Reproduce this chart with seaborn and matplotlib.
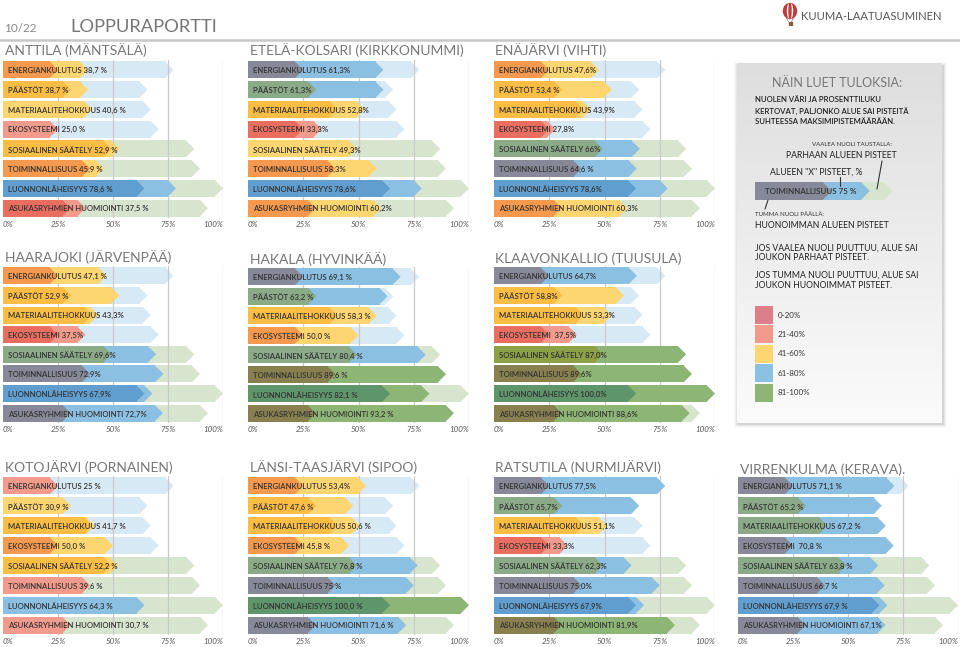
import numpy as np
import pandas as pd
import matplotlib
matplotlib.use("Agg")
import matplotlib.pyplot as plt
import seaborn as sns
from matplotlib.patches import Rectangle, Ellipse
from matplotlib.lines import Line2D
from matplotlib.colors import to_rgb, LinearSegmentedColormap

# ---------------- data ----------------
categories = ["ENERGIANKULUTUS", "PÄÄSTÖT", "MATERIAALITEHOKKUUS", "EKOSYSTEEMI",
              "SOSIAALINEN SÄÄTELY", "TOIMINNALLISUUS", "LUONNONLÄHEISYYS",
              "ASUKASRYHMIEN HUOMIOINTI"]
class_names = ["0-20%", "21-40%", "41-60%", "61-80%", "81-100%"]
class_colors = ["#dc7f8a", "#f29a8c", "#fdd672", "#8cc0e2", "#8db575"]

area_names = ["ANTTILA (MÄNTSÄLÄ)", "ETELÄ-KOLSARI (KIRKKONUMMI)", "ENÄJÄRVI (VIHTI)",
              "HAARAJOKI (JÄRVENPÄÄ)", "HAKALA (HYVINKÄÄ)", "KLAAVONKALLIO (TUUSULA)",
              "KOTOJÄRVI (PORNAINEN)", "LÄNSI-TAASJÄRVI (SIPOO)", "RATSUTILA (NURMIJÄRVI)",
              "VIRRENKULMA (KERAVA)."]

anttila_values = [38.7, 38.7, 40.6, 25.0, 52.9, 45.9, 78.6, 37.5]
anttila_classes = ["41-60%", "41-60%", "41-60%", "21-40%", "41-60%", "41-60%", "61-80%", "21-40%"]
anttila_labels = ["38,7 %", "38,7 %", "40,6 %", "25,0 %", "52,9 %", "45,9 %", "78,6 %", "37,5 %"]

kolsari_values = [61.3, 61.3, 52.8, 33.3, 49.3, 58.3, 78.6, 60.2]
kolsari_classes = ["61-80%", "61-80%", "41-60%", "21-40%", "41-60%", "41-60%", "61-80%", "41-60%"]
kolsari_labels = ["61,3%", "61,3%", "52,8%", "33,3%", "49,3%", "58,3%", "78,6%", "60,2%"]

enajarvi_values = [47.6, 53.4, 43.9, 27.8, 66.0, 64.6, 78.6, 60.3]
enajarvi_classes = ["41-60%", "41-60%", "41-60%", "21-40%", "61-80%", "61-80%", "61-80%", "41-60%"]
enajarvi_labels = ["47,6%", "53,4 %", "43,9%", "27,8%", "66%", "64,6 %", "78,6%", "60,3%"]

haarajoki_values = [47.1, 52.9, 43.3, 37.5, 69.6, 72.9, 67.9, 72.7]
haarajoki_classes = ["41-60%", "41-60%", "41-60%", "21-40%", "61-80%", "61-80%", "61-80%", "61-80%"]
haarajoki_labels = ["47,1 %", "52,9 %", "43,3%", "37,5%", "69,6%", "72,9%", "67,9%", "72,7%"]

hakala_values = [69.1, 63.2, 58.3, 50.0, 80.4, 89.6, 82.1, 93.2]
hakala_classes = ["61-80%", "61-80%", "41-60%", "41-60%", "61-80%", "81-100%", "81-100%", "81-100%"]
hakala_labels = ["69,1 %", "63,2 %", "58,3 %", "50,0 %", "80,4 %", "89,6 %", "82,1 %", "93,2 %"]

klaavonkallio_values = [64.7, 58.8, 53.3, 37.5, 87.0, 89.6, 100.0, 88.6]
klaavonkallio_classes = ["61-80%", "41-60%", "41-60%", "21-40%", "81-100%", "81-100%", "81-100%", "81-100%"]
klaavonkallio_labels = ["64,7%", "58,8%", "53,3%", " 37,5%", "87,0%", "89,6%", "100,0%", "88,6%"]

kotojarvi_values = [25.0, 30.9, 41.7, 50.0, 52.2, 39.6, 64.3, 30.7]
kotojarvi_classes = ["21-40%", "41-60%", "41-60%", "41-60%", "41-60%", "21-40%", "61-80%", "21-40%"]
kotojarvi_labels = ["25 %", "30,9 %", "41,7 %", "50,0 %", "52,2 %", "39,6 %", "64,3 %", "30,7 %"]

taasjarvi_values = [53.4, 47.6, 50.6, 45.8, 76.8, 75.0, 100.0, 71.6]
taasjarvi_classes = ["41-60%", "41-60%", "41-60%", "41-60%", "61-80%", "61-80%", "81-100%", "61-80%"]
taasjarvi_labels = ["53,4%", "47,6 %", "50,6 %", "45,8 %", "76,8 %", "75 %", "100,0 %", "71,6 %"]

ratsutila_values = [77.5, 65.7, 51.1, 33.3, 62.3, 75.0, 67.9, 81.9]
ratsutila_classes = ["61-80%", "61-80%", "41-60%", "21-40%", "61-80%", "61-80%", "61-80%", "81-100%"]
ratsutila_labels = ["77,5%", "65,7%", "51,1%", "33,3%", "62,3%", "75,0%", "67,9%", "81,9%"]

virrenkulma_values = [71.1, 65.2, 67.2, 70.8, 63.8, 66.7, 67.9, 67.1]
virrenkulma_classes = ["61-80%"] * 8
virrenkulma_labels = ["71,1 %", "65,2 %", "67,2 %", " 70,8 %", "63,8 %", "66,7 %", "67,9 %", "67,1%"]

tick_values = [0, 25, 50, 75, 100]
tick_labels = ["0%", "25%", "50%", "75%", "100%"]

# legend example (Näin luet tuloksia)
example_category = ["TOIMINNALLISUUS"]
example_values = [50.0, 75.0, 90.0]  # worst, area, best
example_label = "75 %"

# ---------------- setup ----------------
sns.set_theme(style="white")
plt.rcParams["font.family"] = ["Lato", "DejaVu Sans"]

W, H = 960, 647
fig = plt.figure(figsize=(W / 100, H / 100), dpi=100)
fig.patch.set_facecolor("white")

cmap = dict(zip(class_names, [np.array(to_rgb(c)) for c in class_colors]))


def ax_px(x0, y0, x1, y1, **kw):
    return fig.add_axes([x0 / W, 1 - y1 / H, (x1 - x0) / W, (y1 - y0) / H], **kw)


def ftext(x, y, s, **kw):
    return fig.text(x / W, 1 - y / H, s, **kw)


def light(c, a=0.35):
    return tuple(1 - a * (1 - np.asarray(c)))


def multiply(mid, top, a=0.72):
    return tuple(np.asarray(mid) * (1 - a + a * np.asarray(top)))


TIP = 3.6
BH = 0.86
TITLE_KW = dict(fontsize=10.0, color="#777777", fontweight="normal")


def draw_layer(ax, cats, vals, cols, order, tip=TIP, h=BH):
    if not cats:
        return
    df = pd.DataFrame({"cat": cats, "v": [v - tip for v in vals]})
    sns.barplot(data=df, x="v", y="cat", hue="cat", order=order,
                palette=dict(zip(cats, cols)), orient="h", width=h,
                saturation=1, linewidth=0, edgecolor="none",
                legend=False, errorbar=None, ax=ax)
    for c, v, col in zip(cats, vals, cols):
        i = order.index(c)
        ax.fill([v - tip - 0.25, v, v - tip - 0.25], [i - h / 2, i, i + h / 2],
                color=col, lw=0)


all_values = np.array([anttila_values, kolsari_values, enajarvi_values, haarajoki_values,
                       hakala_values, klaavonkallio_values, kotojarvi_values,
                       taasjarvi_values, ratsutila_values, virrenkulma_values])
all_classes = [anttila_classes, kolsari_classes, enajarvi_classes, haarajoki_classes,
               hakala_classes, klaavonkallio_classes, kotojarvi_classes,
               taasjarvi_classes, ratsutila_classes, virrenkulma_classes]
all_labels = [anttila_labels, kolsari_labels, enajarvi_labels, haarajoki_labels,
              hakala_labels, klaavonkallio_labels, kotojarvi_labels,
              taasjarvi_labels, ratsutila_labels, virrenkulma_labels]

best_idx = all_values.argmax(axis=0)
worst_idx = all_values.argmin(axis=0)
best_vals = all_values.max(axis=0)
worst_vals = all_values.min(axis=0)
best_cls = [all_classes[best_idx[r]][r] for r in range(len(categories))]
worst_cls = [all_classes[worst_idx[r]][r] for r in range(len(categories))]

# pixel layout: x0(0%), x1(100%), ytop, ybottom, title x, title baseline y
layout = [
    (3, 223, 60, 218, 5, 55),
    (248, 469, 60, 218, 250, 55),
    (494, 715, 60, 218, 495, 55),
    (3, 223, 266, 423, 5, 262),
    (248, 469, 267, 423, 250, 264),
    (494, 715, 266, 423, 495, 263),
    (3, 223, 476, 635, 5, 472),
    (248, 469, 476, 635, 250, 472),
    (494, 715, 476, 635, 495, 472),
    (738, 958, 476, 635, 740, 474),
]

TEXT_DARK = "#333333"
GRID = "#c9c9c9"

for a, (x0, x1, yt, yb, tx, ty) in enumerate(layout):
    vals = all_values[a]
    cls = all_classes[a]
    labs = all_labels[a]
    ax = ax_px(x0, yt, x1, yb)
    ax.set_facecolor("none")

    # background: best area's score
    bc, bv, bcol = [], [], []
    for r, c in enumerate(categories):
        if vals[r] < best_vals[r]:
            bc.append(c); bv.append(best_vals[r]); bcol.append(light(cmap[best_cls[r]]))
    draw_layer(ax, bc, bv, bcol, categories)

    # grid lines
    for t in tick_values[1:]:
        ax.axvline(t, color=GRID, lw=0.9, zorder=1)

    # this area's score
    draw_layer(ax, categories, list(vals), [tuple(cmap[c]) for c in cls], categories)

    # dark overlay: worst area's score
    dc, dv, dcol = [], [], []
    for r, c in enumerate(categories):
        if vals[r] > worst_vals[r]:
            dc.append(c); dv.append(worst_vals[r])
            dcol.append(multiply(cmap[cls[r]], cmap[worst_cls[r]]))
    draw_layer(ax, dc, dv, dcol, categories)

    for r, c in enumerate(categories):
        ax.text(2.4, r + 0.04, f"{c} {labs[r]}", va="center", ha="left",
                fontsize=5.6, color=TEXT_DARK, fontweight="semibold", zorder=6)

    ax.set_xlim(0, 100)
    ax.set_ylim(len(categories) - 0.5, -0.5)
    ax.set_xlabel("")
    ax.set_ylabel("")
    ax.set_yticks([])
    ax.set_xticks(tick_values)
    ax.set_xticklabels(tick_labels, fontsize=5.8, color="#555555", style="italic")
    tl = ax.get_xticklabels()
    tl[0].set_ha("left")
    tl[-1].set_ha("right")
    ax.tick_params(axis="x", length=0, pad=2.5)
    for s in ax.spines.values():
        s.set_visible(False)

    ftext(tx, ty, area_names[a], va="baseline", ha="left", zorder=10, **TITLE_KW)

# ---------------- header ----------------
ftext(4, 32, "10/22", fontsize=8.5, color="#888888", fontweight="normal", va="baseline")
ftext(70, 32, "LOPPURAPORTTI", fontsize=13.2, color="#777777", fontweight="normal", va="baseline")
fig.add_artist(Line2D([0, 1], [1 - 39.5 / H] * 2, color="#c8c8c8", lw=1.8,
                      transform=fig.transFigure))

# logo
axlogo = ax_px(780, 2, 800, 26)
axlogo.set_xlim(0, 20); axlogo.set_ylim(24, 0); axlogo.axis("off")
axlogo.add_patch(Ellipse((10, 9), 13, 15, color="#c23b3b"))
axlogo.add_patch(Ellipse((10, 9), 5, 15, color="white"))
axlogo.add_patch(Ellipse((10, 9), 2, 15, color="#c23b3b"))
axlogo.add_patch(Rectangle((8.5, 19.5), 3, 3, color="#8a5a3a"))
axlogo.plot([5.5, 8.5], [14.5, 19.5], color="#777", lw=0.5)
axlogo.plot([14.5, 11.5], [14.5, 19.5], color="#777", lw=0.5)
ftext(801, 17, "KUUMA-LAATUASUMINEN", fontsize=8.1, color="#555555", va="center")

# ---------------- legend panel ----------------
bx0, by0, bx1, by1 = 737, 63, 942, 423
for k, al in enumerate([0.07, 0.05, 0.03, 0.015]):
    fig.add_artist(Rectangle(((bx0 - k) / W, 1 - (by1 + 2 + k) / H),
                             (bx1 - bx0 + 2 * k + 2) / W, (by1 - by0 + 2 * k) / H,
                             transform=fig.transFigure, color="black", alpha=al, lw=0,
                             zorder=-5))
axl = ax_px(bx0, by0, bx1, by1)
axl.set_zorder(-1)
grad = np.linspace(0, 1, 256).reshape(-1, 1)
gcm = LinearSegmentedColormap.from_list("g", ["#dedede", "#fbfbfb"])
axl.imshow(grad, aspect="auto", cmap=gcm, extent=[0, 1, 0, 1], origin="upper")
axl.axis("off")

ftext(837, 87, "NÄIN LUET TULOKSIA:", fontsize=9.0, color="#777777",
      fontweight="normal", ha="center", va="baseline")
for yy, s in zip([100, 111, 122], ["NUOLEN VÄRI JA PROSENTTILUKU",
                                   "KERTOVAT, PALJONKO ALUE SAI PISTEITÄ",
                                   "SUHTEESSA MAKSIMIPISTEMÄÄRÄÄN."]):
    ftext(755, yy, s, fontsize=5.6, color="#222222", fontweight="semibold", va="center")
ftext(852, 145, "VAALEA NUOLI TAUSTALLA:", fontsize=4.4, color="#333333", ha="center", va="center")
ftext(841, 155, "PARHAAN ALUEEN PISTEET", fontsize=6.2, color="#222222", ha="center", va="center")
ftext(770, 172, "ALUEEN \"X\" PISTEET, %", fontsize=6.2, color="#222222", va="center")
ftext(755, 214, "TUMMA NUOLI PÄÄLLÄ:", fontsize=4.4, color="#333333", va="center")
ftext(755, 225, "HUONOIMMAN ALUEEN PISTEET", fontsize=6.2, color="#222222", va="center")
for yy, s in zip([248, 258, 275, 285], ["JOS VAALEA NUOLI PUUTTUU, ALUE SAI",
                                       "JOUKON PARHAAT PISTEET.",
                                       "JOS TUMMA NUOLI PUUTTUU, ALUE SAI",
                                       "JOUKON HUONOIMMAT PISTEET."]):
    ftext(755, yy, s, fontsize=6.2, color="#222222", va="center")

# example arrow
axe = ax_px(755, 182, 908, 200)
axe.set_facecolor("none")
draw_layer(axe, example_category, [example_values[2]], [light(cmap["81-100%"])], example_category, tip=5.5, h=1.0)
draw_layer(axe, example_category, [example_values[1]], [tuple(cmap["61-80%"])], example_category, tip=5.5, h=1.0)
draw_layer(axe, example_category, [example_values[0]], [multiply(cmap["61-80%"], cmap["21-40%"])], example_category, tip=5.5, h=1.0)
axe.text(6.5, 0.04, f"{example_category[0]} {example_label}", va="center", ha="left",
         fontsize=5.8, color=TEXT_DARK, fontweight="semibold")
axe.set_xlim(0, 100); axe.set_ylim(0.5, -0.5)
axe.set_xlabel(""); axe.set_ylabel("")
axe.axis("off")

for (xa, ya, xb, yb2) in [(840, 177, 840, 186), (882, 161, 877, 189), (768, 200, 765, 209)]:
    fig.add_artist(Line2D([xa / W, xb / W], [1 - ya / H, 1 - yb2 / H], color="#333333",
                          lw=0.8, transform=fig.transFigure))

# colour classes
for k, (nm, col) in enumerate(zip(class_names, class_colors)):
    ytop = 306 + k * 19.4
    fig.add_artist(Rectangle((755 / W, 1 - (ytop + 18) / H), 18 / W, 18 / H,
                             transform=fig.transFigure, color=col, lw=0))
    ftext(778, ytop + 9, nm, fontsize=5.8, color="#333333", va="center")

fig.savefig("out.png", dpi=100, facecolor="white")
